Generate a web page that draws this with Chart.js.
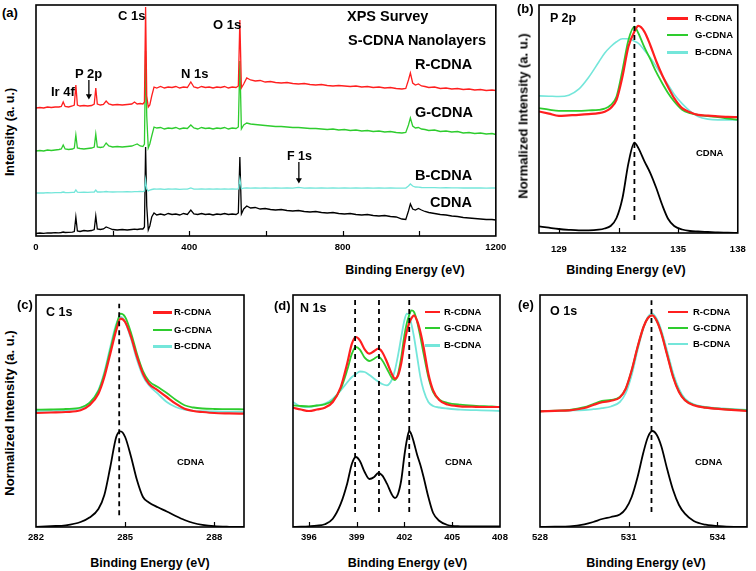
<!DOCTYPE html>
<html><head><meta charset="utf-8">
<script src="https://cdn.jsdelivr.net/npm/chart.js@4.4.1/dist/chart.umd.min.js"></script>
<style>
html,body{margin:0;padding:0;background:#fff;}
#wrap{position:relative;width:756px;height:571px;overflow:hidden;background:#fff;font-family:"Liberation Sans",Arial,sans-serif;font-weight:bold;color:#000;}
canvas{position:absolute;z-index:1;}
.t,.tc,.tv{position:absolute;z-index:2;line-height:1;white-space:nowrap;font-weight:bold;}
.t{transform:translateY(-50%);}
.tc{transform:translate(-50%,-50%);}
.tv{transform:translate(-50%,-50%) rotate(-90deg);}
.ln{position:absolute;z-index:2;}
</style></head>
<body>
<div id="wrap">
<canvas id="ca"></canvas><canvas id="cb"></canvas><canvas id="cc"></canvas><canvas id="cd"></canvas><canvas id="ce"></canvas>

<!-- panel a texts -->
<div class="t" style="left:2px;top:12px;font-size:13px">(a)</div>
<div class="t" style="left:118px;top:15px;font-size:13px">C 1s</div>
<div class="t" style="left:213px;top:24px;font-size:13px">O 1s</div>
<div class="t" style="left:181px;top:72.5px;font-size:13px">N 1s</div>
<div class="t" style="left:75px;top:72.5px;font-size:13px">P 2p</div>
<div class="t" style="left:51px;top:91px;font-size:13px">Ir 4f</div>
<div class="t" style="left:347px;top:15.5px;font-size:14.5px">XPS Survey</div>
<div class="t" style="left:348px;top:40px;font-size:14.5px">S-CDNA Nanolayers</div>
<div class="t" style="left:415px;top:64px;font-size:14.5px">R-CDNA</div>
<div class="t" style="left:415px;top:112px;font-size:14.5px">G-CDNA</div>
<div class="t" style="left:287px;top:155.5px;font-size:12.5px">F 1s</div>
<div class="t" style="left:415px;top:174.5px;font-size:14.5px">B-CDNA</div>
<div class="t" style="left:430px;top:202px;font-size:14.5px">CDNA</div>
<div class="tc" style="left:405px;top:270px;font-size:12.5px">Binding Energy (eV)</div>
<div class="tv" style="left:9.5px;top:132px;font-size:12.5px">Intensity (a. u.)</div>

<!-- panel b texts -->
<div class="t" style="left:517px;top:7.5px;font-size:13px">(b)</div>
<div class="t" style="left:550px;top:18.3px;font-size:12.5px">P 2p</div>
<div class="ln" style="left:667px;top:17px;width:21px;height:2.5px;background:#ff1f1f"></div>
<div class="ln" style="left:667px;top:34px;width:21px;height:2px;background:#2ecc2e"></div>
<div class="ln" style="left:667px;top:51px;width:21px;height:2.5px;background:#74e6da"></div>
<div class="t" style="left:695px;top:18.3px;font-size:9.5px">R-CDNA</div>
<div class="t" style="left:695px;top:35px;font-size:9.5px">G-CDNA</div>
<div class="t" style="left:695px;top:52.3px;font-size:9.5px">B-CDNA</div>
<div class="t" style="left:696px;top:153px;font-size:9.5px">CDNA</div>
<div class="tc" style="left:626px;top:270px;font-size:12.5px">Binding Energy (eV)</div>
<div class="tv" style="left:523px;top:116px;font-size:13px">Normalized Intensity (a. u.)</div>

<!-- panel c texts -->
<div class="t" style="left:17px;top:304px;font-size:13px">(c)</div>
<div class="t" style="left:46px;top:311.5px;font-size:12.5px">C 1s</div>
<div class="ln" style="left:153px;top:311px;width:19px;height:2.5px;background:#ff1f1f"></div>
<div class="ln" style="left:153px;top:328.5px;width:19px;height:2px;background:#2ecc2e"></div>
<div class="ln" style="left:153px;top:345px;width:19px;height:2.5px;background:#74e6da"></div>
<div class="t" style="left:174px;top:312px;font-size:9.5px">R-CDNA</div>
<div class="t" style="left:174px;top:329.5px;font-size:9.5px">G-CDNA</div>
<div class="t" style="left:174px;top:346px;font-size:9.5px">B-CDNA</div>
<div class="t" style="left:177px;top:461.7px;font-size:9.5px">CDNA</div>
<div class="tc" style="left:150px;top:562.5px;font-size:12.5px">Binding Energy (eV)</div>
<div class="tv" style="left:9.3px;top:412.5px;font-size:13px">Normalized Intensity (a. u.)</div>

<!-- panel d texts -->
<div class="t" style="left:274px;top:304.5px;font-size:13px">(d)</div>
<div class="t" style="left:300px;top:307.5px;font-size:12.5px">N 1s</div>
<div class="ln" style="left:425px;top:310.5px;width:15px;height:2.5px;background:#ff1f1f"></div>
<div class="ln" style="left:425px;top:326.7px;width:15px;height:2px;background:#2ecc2e"></div>
<div class="ln" style="left:425px;top:344px;width:15px;height:2.5px;background:#74e6da"></div>
<div class="t" style="left:444px;top:311.7px;font-size:9.5px">R-CDNA</div>
<div class="t" style="left:444px;top:327.7px;font-size:9.5px">G-CDNA</div>
<div class="t" style="left:444px;top:345.3px;font-size:9.5px">B-CDNA</div>
<div class="t" style="left:445px;top:461.7px;font-size:9.5px">CDNA</div>
<div class="tc" style="left:407.5px;top:562.5px;font-size:12.5px">Binding Energy (eV)</div>

<!-- panel e texts -->
<div class="t" style="left:518px;top:304px;font-size:13px">(e)</div>
<div class="t" style="left:550px;top:310.8px;font-size:12.5px">O 1s</div>
<div class="ln" style="left:668px;top:310.5px;width:20px;height:2.5px;background:#ff1f1f"></div>
<div class="ln" style="left:668px;top:326.7px;width:20px;height:2px;background:#2ecc2e"></div>
<div class="ln" style="left:668px;top:342.8px;width:20px;height:2.5px;background:#74e6da"></div>
<div class="t" style="left:693px;top:311.7px;font-size:9.5px">R-CDNA</div>
<div class="t" style="left:693px;top:327.7px;font-size:9.5px">G-CDNA</div>
<div class="t" style="left:693px;top:344px;font-size:9.5px">B-CDNA</div>
<div class="t" style="left:695px;top:461.7px;font-size:9.5px">CDNA</div>
<div class="tc" style="left:646px;top:562.5px;font-size:12.5px">Binding Energy (eV)</div>
</div>

<script>
// ===== (a) XPS survey =====
const surveyEnergy = [0,10,20,30,40,50,60,66,71,76,
 85,95,100,104,108,115,125,135,145,152,
 156,160,168,176,183,190,200,212,225,238,
 250,257,264,272,279,283,286,289,293,297,
 302,308,315,325,335,345,355,365,375,385,
 395,404,412,422,432,442,452,462,472,482,
 492,502,512,522,528,532,536,542,550,560,
 572,585,598,612,625,640,655,670,685,700,
 715,730,745,760,775,790,805,820,835,850,
 865,880,895,910,925,940,955,965,972,977,
 983,990,998,1006,1015,1025,1040,1055,1070,1085,
 1100,1115,1130,1145,1160,1175,1190,1200];
const surveyR = [128,128.5,128,129,128.5,129,129,129.5,134,129.5,
 129,130,131,151,131,130,130.5,130,130.5,132,
 148,132,131,131.5,135,132,131,131.5,131,131.5,
 132,134,132,132.5,132,134,229,140,129,131,
 140,149,148,149.5,148,149,148.5,149.5,148,149,
 148.5,154,149,148,149.5,148.5,149,148,149,148.5,
 149.5,148,149,148.5,150,216,148,152,158,156,
 155,155.5,154,154.5,153.5,153,153.5,152.5,152,152.5,
 151.5,151,151.5,150.5,150,150.5,150,149.5,150,149,
 149.5,148.5,149,148,148.5,147.5,147,147.5,156,163,
 153,151,152,150,149.5,148.5,149,147.5,148,147,
 147.5,146.5,147,146,146.5,145.5,146,145.5];
const surveyG = [85,85.5,85,86,85.5,86,86.5,87,91,87,
 86.5,87,88,101,88,87.5,87,87.5,88,89,
 102,89,88.5,89,93,90,89,89.5,89,89.5,
 90,91,92,90,89.5,92,185,120,88,92,
 100,109,108,108.5,107,108,107.5,108.5,107,108,
 107.5,111,108,107,108.5,107.5,108,107,108,107.5,
 108.5,107,108,107.5,109,175,107,111,113,112,
 111.5,111,110.5,110,109.5,109.5,109,108.5,108.5,108,
 107.5,107.5,107,106.5,107,106,106.5,105.5,106,105,
 105.5,104.5,105,104,104.5,103.5,103,103.5,111,118,
 110,108,108.5,107,106.5,105.5,106,104.5,105,104,
 104.5,103,103.5,102.5,103,102,102.5,101.5];
const surveyB = [43,43.2,43,43.3,43.2,43.4,43.3,43.5,44,43.5,
 43.4,43.6,43.7,46,43.8,43.7,43.8,43.7,43.9,44,
 46,44,44,44.1,44.5,44.1,44,44.2,44.1,44.3,
 44.2,44.4,44.3,44.5,44.4,45,56,47,45,46,
 46.5,47,46.8,47,46.7,47,46.8,47,46.7,46.9,
 46.8,48,46.9,46.8,47,46.8,47,46.9,47,46.8,
 47,46.9,47.1,46.9,47.2,57,47.2,47.8,48,47.9,
 48,47.8,48,47.9,48,47.8,48,47.9,48.6,47.9,
 48,47.9,48,47.9,48,47.9,48,47.9,48,47.9,
 48,47.9,48,47.9,48,47.9,47.8,48,50,52,
 50,49,48.8,48.5,48.4,48.3,48.4,48.2,48.3,48.1,
 48.2,48,48.1,48,48.1,47.9,48,48];
const surveyCDNA = [2.5,3,2.7,3.2,3,3.4,3.2,3.5,4,3.5,
 3.6,3.8,4.5,19,5,4.5,5.5,5,5.5,6.5,
 20,7,6.5,7,9,8,6.5,6,6.5,6,
 6.5,6.8,6.5,7,7,9,89,30,6,10,
 19,23,21,22,21,22.5,21.5,22,21,22.5,
 21.5,26,22,21.5,22.5,21.5,22,21,22,21.5,
 22.5,21.5,22,21.5,23,79,22,27,30,28,
 28.5,27,27.5,26.5,26,26.5,25.5,25,25.5,24.5,
 24,24.5,23.5,23,23.5,22.5,22,22.5,21.5,21,
 21.5,20.5,20,20.5,19.5,19,17,16.5,25,32,
 27,26,27.5,26,24.5,23.5,22.5,21.5,21,20,
 19.5,18.5,18,17.5,17,16.5,16.5,16];
const surveyTicks = [0,400,800,1200];
const surveyInwardTicks = [200,400,600,800,1000];
const arrowP2pX = [138,138], arrowP2pY = [156,140];
const arrowF1sX = [686,686], arrowF1sY = [74,56];

// ===== (b) P 2p =====
const p2pEnergy = [128,128.5,129,129.5,130,130.5,131,131.3,131.6,131.9,132.2,132.5,132.8,133.0,133.3,133.6,133.9,134.2,134.5,134.8,135.2,135.6,136,136.5,137,137.5,138];
const p2pR = [121.7,119.5,117.3,117.8,118.3,119,120,121.5,125,133.3,156.7,186.7,201.7,207.3,201.7,188,172,158,146,135,125,121,118.3,117.5,116.7,116.3,116];
const p2pG = [125,123.5,122.3,122.3,122.3,122.8,123.3,124.5,128,136.7,163.3,193.3,206.7,200,186,174,161,150,140,131.7,123.5,120,118.3,117,116,114.5,113.3];
const p2pB = [137.3,137,136.7,138,144,156,171,180,186.5,191.5,194.5,194.5,192,190,183,175.5,166.5,157.5,148.3,139,129.5,122,116.7,114,113.3,113.3,113.3];
const p2pCDNA = [6.7,5.3,4,3.2,2.7,2.7,3.3,4.5,7,15,35,70,90.5,85,72,60,45,28,14,7,3.5,2,1.5,1,0.5,0.3,0];
const p2pTicks = [129,132,135,138];
const p2pPeak = 132.8;

// ===== (c) C 1s =====
const c1sEnergy = [282,282.5,283,283.5,283.8,284.1,284.3,284.5,284.7,284.85,285.0,285.2,285.4,285.6,285.8,286.1,286.4,286.7,287.0,287.3,287.6,288,288.5,289];
const c1sR = [114,114.5,115,116.7,121.7,133.3,150,173.3,196.7,208.3,205,190,170,153.3,143.3,136.7,130,123.3,118.3,116,115,114,113.6,113.3];
const c1sG = [117.3,117.5,118,119.5,124,136,153,177,201,213.3,210,194,173,156,146,140,134,127.3,121.7,119.5,118.5,118,117.8,117.7];
const c1sB = [116,116.3,117,118.8,124,137,155,180,203,210,205,188,167,151,141.7,133.3,125,120,117.3,116.2,115.8,115.5,115.3,115];
const c1sCDNA = [0,0.8,1.7,5,9.5,18,32,60,90,95.7,90,70,46.7,30,24.5,19.7,15.5,11,7,4,2.2,0.8,0.2,0];
const c1sTicks = [282,285,288];
const c1sPeak = 284.8;

// ===== (d) N 1s =====
const n1sEnergy = [395,395.5,396,396.5,397,397.5,398,398.4,398.7,398.95,399.2,399.5,399.8,400.1,400.35,400.6,400.9,401.2,401.4,401.6,401.8,402.0,402.15,402.3,402.45,402.6,402.8,403.0,403.2,403.5,403.8,404.2,404.7,405.5,406.5,407.5,408];
const n1sR = [119.3,117.5,116,117.5,119.3,125,140,163.3,183.3,190,186.7,177.7,173.3,176,178.3,175,165,153.3,148.3,151.7,164,184,196,204,209,211.7,206,195,180,153.3,136.7,126.7,122.5,120.7,120.2,120,120];
const n1sG = [121.7,121,120.7,121.5,122.7,126.7,138.3,156.7,173.3,180,177.3,169.3,166,168.3,170.7,166.7,158.3,149.3,147,153.3,170,192,204,212,216.7,215,205,190,173.3,150,135,127.3,124.2,122.3,121.2,120.5,120];
const n1sB = [125,120.5,120,121.5,123.3,128.3,136.7,144.5,150,153,155.5,155,152,148.3,145.5,143,141.7,147,156.7,172,190,207,213.3,211,202,190,170,150,136.7,125,121,119.5,118.5,117.3,116.8,116.3,116];
const n1sCDNA = [0,0.3,0.7,1.3,2.7,8.3,23.3,43.3,63.3,70,66,55,48,50,54,51.7,43.3,32.7,29,33.3,47,72,87,96,92,84,72,62,50,30,14,6,2,0.7,0.5,0.5,0.7];
const n1sTicks = [396,399,402,405,408];
const n1sPeaks = [398.9,400.4,402.3];

// ===== (e) O 1s =====
const o1sEnergy = [528,528.5,529,529.5,529.8,530.1,530.4,530.7,530.9,531.1,531.3,531.5,531.65,531.8,531.95,532.1,532.3,532.5,532.7,532.9,533.2,533.6,534.2,535];
const o1sR = [115.7,116.2,116.7,119,122,124.7,126.3,129.5,138.3,156.7,180,200,209,211.7,206,194,172,150,135,126.7,121.7,119.3,117.7,116];
const o1sG = [115.7,116.3,117,119.8,123,126,127,130,138.5,156.5,180,200,209,211.7,206,194.5,172.5,150.5,135.5,127,122,119.5,118,116.5];
const o1sB = [116,116.2,116.5,117,117.8,118.8,120.5,125,134,152,177,199,210,213.3,208,197,176,154,138,128.3,122.7,120,118.5,117];
const o1sCDNA = [0,0.3,0.7,2.7,5,8,10,12.5,18.3,30,50,75,90,96,92,81,58,37,22,13.3,6,2.3,0.7,0];
const o1sTicks = [528,531,534];
const o1sPeak = 531.77;

// ===== drawing =====
const FONT = '"Liberation Sans", Arial, sans-serif';
const RED = '#ff1f1f', GREEN = '#2ecc2e', CYAN = '#74e6da', BLACK = '#000000';

function pts(xs, ys) { return xs.map((x, i) => ({x: x, y: ys[i]})); }
function curve(xs, ys, color, width, smooth) {
  return {data: pts(xs, ys), borderColor: color, borderWidth: width, pointRadius: 0, fill: false,
          tension: 0, cubicInterpolationMode: smooth ? 'monotone' : 'default'};
}
function dashed(x, y0, y1) {
  return {data: [{x: x, y: y0}, {x: x, y: y1}], borderColor: '#000', borderWidth: 1.8,
          borderDash: [5, 4], pointRadius: 0, fill: false};
}
function arrow(xs, ys) {
  return {data: pts(xs, ys), borderColor: '#000', borderWidth: 1.3, fill: false,
          pointRadius: [0, 3.5], pointStyle: 'triangle', pointRotation: 180,
          pointBackgroundColor: '#000', pointBorderColor: '#000', pointBorderWidth: 0};
}

const framePlugin = {
  id: 'frame',
  afterDatasetsDraw(chart, args, opts) {
    const ctx = chart.ctx, a = chart.chartArea, x = chart.scales.x;
    ctx.save();
    ctx.strokeStyle = '#000';
    ctx.lineWidth = 1.2;
    (opts.inward || []).forEach(v => {
      const px = Math.round(x.getPixelForValue(v)) + 0.5;
      ctx.beginPath(); ctx.moveTo(px, a.bottom); ctx.lineTo(px, a.bottom - 5); ctx.stroke();
    });
    ctx.lineWidth = 1.6;
    ctx.strokeRect(a.left, a.top, a.right - a.left, a.bottom - a.top);
    ctx.restore();
  }
};

function panel(id, geo, spec) {
  const cv = document.getElementById(id);
  const w = geo.r - geo.l + geo.padL + geo.padR;
  const h = geo.b - geo.t + geo.padT + geo.axisH;
  cv.width = w; cv.height = h;
  cv.style.width = w + 'px'; cv.style.height = h + 'px';
  cv.style.left = (geo.l - geo.padL) + 'px'; cv.style.top = (geo.t - geo.padT) + 'px';
  return new Chart(cv, {
    type: 'line',
    data: {datasets: spec.datasets},
    options: {
      responsive: false, animation: false, devicePixelRatio: 1, events: [],
      layout: {padding: {left: geo.padL, right: geo.padR, top: geo.padT, bottom: 0}},
      plugins: {legend: {display: false}, tooltip: {enabled: false}, frame: {inward: spec.inward}},
      scales: {
        x: {type: 'linear', min: spec.xmin, max: spec.xmax,
            afterBuildTicks: s => { s.ticks = spec.ticks.map(v => ({value: v})); },
            afterFit: s => { s.height = geo.axisH; },
            grid: {display: false, drawTicks: false, tickLength: 0}, border: {display: false},
            ticks: {padding: geo.tickPad, color: '#000', autoSkip: false, maxRotation: 0,
                    font: {family: FONT, size: 9.5, weight: 'bold'}, callback: v => String(v)}},
        y: {type: 'linear', display: false, min: 0, max: spec.ymax}
      }
    },
    plugins: [framePlugin]
  });
}

// (a)
panel('ca', {l: 36, r: 498, t: 5, b: 236, padL: 14, padR: 14, padT: 5, axisH: 26, tickPad: 5.6}, {
  xmin: 0, xmax: 1200, ymax: 231, ticks: surveyTicks, inward: surveyInwardTicks,
  datasets: [
    arrow(arrowP2pX, arrowP2pY), arrow(arrowF1sX, arrowF1sY),
    curve(surveyEnergy, surveyR, RED, 1.3, false),
    curve(surveyEnergy, surveyG, GREEN, 1.3, false),
    curve(surveyEnergy, surveyB, CYAN, 1.3, false),
    curve(surveyEnergy, surveyCDNA, BLACK, 1.3, false)
  ]
});
// (b)
panel('cb', {l: 539, r: 747, t: 5, b: 233, padL: 14, padR: 9, padT: 5, axisH: 26, tickPad: 10.3}, {
  xmin: 128, xmax: 138, ymax: 228.3, ticks: p2pTicks, inward: [129, 132, 135],
  datasets: [
    dashed(p2pPeak, 13, 228),
    curve(p2pEnergy, p2pR, RED, 2.2, true),
    curve(p2pEnergy, p2pG, GREEN, 1.8, true),
    curve(p2pEnergy, p2pB, CYAN, 1.6, true),
    curve(p2pEnergy, p2pCDNA, BLACK, 1.8, true)
  ]
});
// (c)
panel('cc', {l: 36, r: 244, t: 295, b: 527, padL: 14, padR: 14, padT: 5, axisH: 24, tickPad: 4.8}, {
  xmin: 282, xmax: 289, ymax: 232, ticks: c1sTicks, inward: [285, 288],
  datasets: [
    dashed(c1sPeak, 11.7, 223.3),
    curve(c1sEnergy, c1sR, RED, 2.2, true),
    curve(c1sEnergy, c1sG, GREEN, 1.8, true),
    curve(c1sEnergy, c1sB, CYAN, 1.8, true),
    curve(c1sEnergy, c1sCDNA, BLACK, 1.8, true)
  ]
});
// (d)
panel('cd', {l: 293, r: 500, t: 295, b: 527, padL: 14, padR: 14, padT: 5, axisH: 24, tickPad: 4.8}, {
  xmin: 395, xmax: 408, ymax: 232, ticks: n1sTicks, inward: [396, 399, 402, 405],
  datasets: [
    dashed(n1sPeaks[0], 15, 228.3), dashed(n1sPeaks[1], 15, 228.3), dashed(n1sPeaks[2], 15, 228.3),
    curve(n1sEnergy, n1sR, RED, 2.2, true),
    curve(n1sEnergy, n1sG, GREEN, 1.8, true),
    curve(n1sEnergy, n1sB, CYAN, 1.8, true),
    curve(n1sEnergy, n1sCDNA, BLACK, 1.8, true)
  ]
});
// (e)
panel('ce', {l: 540, r: 747, t: 295, b: 527, padL: 14, padR: 9, padT: 5, axisH: 24, tickPad: 4.8}, {
  xmin: 528, xmax: 535, ymax: 232, ticks: o1sTicks, inward: [531, 534],
  datasets: [
    dashed(o1sPeak, 15, 226.7),
    curve(o1sEnergy, o1sR, RED, 2.2, true),
    curve(o1sEnergy, o1sG, GREEN, 1.8, true),
    curve(o1sEnergy, o1sB, CYAN, 1.8, true),
    curve(o1sEnergy, o1sCDNA, BLACK, 1.8, true)
  ]
});
</script>
</body></html>
